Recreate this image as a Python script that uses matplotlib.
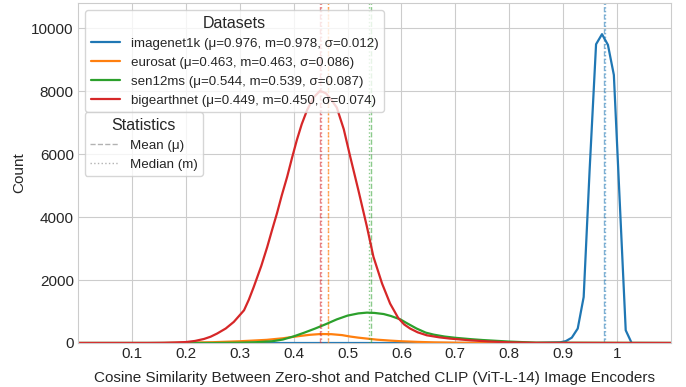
import numpy as np
import matplotlib
matplotlib.use("Agg")
import matplotlib.pyplot as plt
from matplotlib.lines import Line2D
import seaborn as sns

sns.set_style("whitegrid")
plt.rcParams["font.family"] = ["Liberation Sans", "DejaVu Sans"]

# values (cosine similarity -> count)
names = ["imagenet1k", "eurosat", "sen12ms", "bigearthnet"]
colors = ["#1f77b4", "#ff7f0e", "#2ca02c", "#d62728"]
means = [0.976, 0.463, 0.544, 0.449]
medians = [0.978, 0.463, 0.539, 0.450]
stds = [0.012, 0.086, 0.087, 0.074]

imagenet_x = [0.0, 0.85, 0.894, 0.905, 0.916, 0.927, 0.938, 0.949, 0.961, 0.972, 0.983, 0.994, 1.005, 1.016, 1.027, 1.038, 1.1]
imagenet_y = [0, 0, 20, 60, 170, 460, 1460, 5480, 9490, 9810, 9470, 8515, 4460, 404, 0, 0, 0]

eurosat_x = [0.0, 0.15, 0.2, 0.25, 0.3, 0.35, 0.38, 0.41, 0.43, 0.45, 0.47, 0.49, 0.505, 0.52, 0.536, 0.555, 0.58, 0.6, 0.63, 0.66, 0.7, 0.75, 0.8, 1.1]
eurosat_y = [0, 0, 10, 25, 55, 100, 150, 220, 260, 285, 280, 250, 205, 170, 140, 105, 75, 55, 35, 20, 10, 5, 0, 0]

sen12ms_x = [0.0, 0.25, 0.3, 0.33, 0.36, 0.38, 0.40, 0.42, 0.44, 0.46, 0.48, 0.50, 0.52, 0.536, 0.55, 0.567, 0.58, 0.598, 0.61, 0.628, 0.645, 0.66, 0.68, 0.70, 0.73, 0.75, 0.8, 0.85, 1.1]
sen12ms_y = [0, 0, 10, 25, 55, 110, 210, 330, 460, 600, 750, 870, 940, 965, 955, 920, 860, 750, 630, 460, 330, 265, 205, 165, 120, 95, 45, 10, 0]

bigearthnet_x = [0.0, 0.13, 0.16, 0.18, 0.2, 0.217, 0.234, 0.246, 0.258, 0.274, 0.289, 0.308, 0.317, 0.326, 0.34, 0.351, 0.36, 0.369, 0.378, 0.388, 0.397, 0.406, 0.415, 0.425, 0.437, 0.449, 0.46, 0.47, 0.48, 0.493, 0.505, 0.52, 0.536, 0.548, 0.564, 0.579, 0.594, 0.605, 0.616, 0.63, 0.647, 0.67, 0.69, 0.727, 0.76, 0.8, 0.85, 1.1]
bigearthnet_y = [0, 0, 5, 15, 30, 65, 130, 200, 300, 460, 670, 1040, 1380, 1780, 2450, 3050, 3590, 4115, 4690, 5280, 5880, 6450, 6950, 7400, 7800, 8010, 7930, 7720, 7480, 6790, 5915, 4860, 3690, 2740, 1890, 1250, 795, 590, 460, 340, 245, 180, 140, 86, 50, 20, 5, 0]

xs = [imagenet_x, eurosat_x, sen12ms_x, bigearthnet_x]
ys = [imagenet_y, eurosat_y, sen12ms_y, bigearthnet_y]

xticks = [0.1, 0.2, 0.3, 0.4, 0.5, 0.6, 0.7, 0.8, 0.9, 1.0]
xtick_labels = ["0.1", "0.2", "0.3", "0.4", "0.5", "0.6", "0.7", "0.8", "0.9", "1"]
yticks = [0, 2000, 4000, 6000, 8000, 10000]

fig = plt.figure(figsize=(6.86, 3.87), dpi=100)
ax = fig.add_axes([78 / 686, 1 - 343 / 387, 593 / 686, 340 / 387])

handles = []
for name, c, x, y, mu, med, sd in zip(names, colors, xs, ys, means, medians, stds):
    ln, = ax.plot(x, y, color=c, lw=1.6,
                  label=f"{name} (μ={mu:.3f}, m={med:.3f}, σ={sd:.3f})")
    handles.append(ln)
    ax.axvline(mu, color=c, ls="--", lw=1.0, alpha=0.55)
    ax.axvline(med, color=c, ls=":", lw=1.0, alpha=0.55)

ax.set_xlim(0, 1.1)
ax.set_ylim(0, 10800)
ax.set_xticks(xticks)
ax.set_xticklabels(xtick_labels)
ax.set_yticks(yticks)
ax.tick_params(labelsize=11, colors="#262626", pad=3, length=0)
ax.set_xlabel("Cosine Similarity Between Zero-shot and Patched CLIP (ViT-L-14) Image Encoders",
              fontsize=11, labelpad=7)
ax.set_ylabel("Count", fontsize=11, labelpad=4)

leg1 = ax.legend(handles=handles, title="Datasets", loc="upper left",
                 fontsize=9.6, title_fontsize=11.5, framealpha=0.8,
                 handlelength=2.2, borderaxespad=0.55)
ax.add_artist(leg1)

stat_handles = [Line2D([], [], color="gray", ls="--", lw=1.0, alpha=0.6),
                Line2D([], [], color="gray", ls=":", lw=1.0, alpha=0.6)]
ax.legend(handles=stat_handles, labels=["Mean (μ)", "Median (m)"], title="Statistics",
          loc="upper left", bbox_to_anchor=(0.011, 0.678), borderaxespad=0,
          fontsize=9.6, title_fontsize=11.5, framealpha=0.8, handlelength=2.2)

fig.savefig("out.png", dpi=100)
